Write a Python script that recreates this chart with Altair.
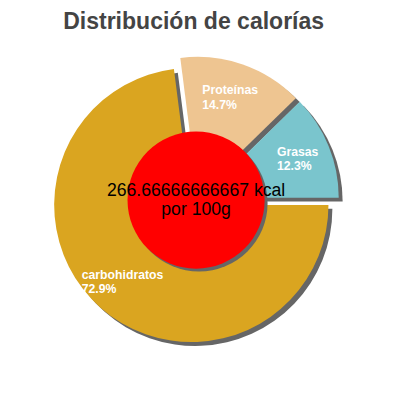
import math
import altair as alt
import pandas as pd

# ---- data ----
title_text = "Distribución de calorías"
names = ["carbohidratos", "Proteínas", "Grasas"]
percents = [72.9, 14.7, 12.3]
colors = ["#DAA520", "#EEC591", "#7AC5CD"]
center_lines = ["266.66666666667 kcal", "por 100g"]

# ---- layout / style ----
W, H = 392, 392
CX, CY = 191.5, 192.0
R = 140
EXPLODE = 6.6
LABEL_R = 111  # from pie centre
SHADOW = 4
SHADOW_COLOR = "#666666"
FONT = "Liberation Sans"
TOTAL = sum(percents)
CIRCLE_R = 70

df = pd.DataFrame({"name": names, "value": percents})

base = (
    alt.Chart(df)
    .transform_window(idx="row_number()")
    .transform_window(cum="sum(value)", sort=[alt.SortField("idx")], frame=[None, 0])
    .transform_calculate(c0="datum.cum - datum.value", c1="datum.cum")
    .transform_calculate(
        mid=f"PI/2 + 2*PI*(datum.cum - datum.value/2)/{TOTAL}"
    )
    .transform_calculate(
        px=f"{CX} + {EXPLODE}*sin(datum.mid)",
        py=f"{CY} - {EXPLODE}*cos(datum.mid)",
        sx=f"{CX} + {EXPLODE}*sin(datum.mid) + {SHADOW}",
        sy=f"{CY} - {EXPLODE}*cos(datum.mid) + {SHADOW}",
        lx=f"{CX} + {LABEL_R}*sin(datum.mid) - length(datum.name)*3.3",
        ly=f"{CY} - {LABEL_R}*cos(datum.mid) - 3",
        label="[datum.name, format(datum.value, '.1f') + '%']",
    )
)

theta_scale = alt.Scale(domain=[0, TOTAL], range=[math.pi / 2, math.pi / 2 + 2 * math.pi])

shadows = base.mark_arc(radius=R, color=SHADOW_COLOR).encode(
    theta=alt.Theta("c0:Q", scale=theta_scale),
    theta2="c1:Q",
    x=alt.X("sx:Q", scale=None),
    y=alt.Y("sy:Q", scale=None),
)

slices = base.mark_arc(radius=R).encode(
    theta=alt.Theta("c0:Q", scale=theta_scale),
    theta2="c1:Q",
    x=alt.X("px:Q", scale=None),
    y=alt.Y("py:Q", scale=None),
    color=alt.Color("name:N", scale=alt.Scale(domain=names, range=colors), legend=None),
)

labels = base.mark_text(
    align="left", baseline="alphabetic", color="white", fontSize=12.5,
    fontWeight="bold", lineHeight=14.5, font=FONT,
).encode(
    x=alt.X("lx:Q", scale=None),
    y=alt.Y("ly:Q", scale=None),
    text="label:N",
)

one = pd.DataFrame({"t": [title_text]})
circle_size = (2 * CIRCLE_R) ** 2  # Vega circle: radius = sqrt(size)/2

circle_shadow = alt.Chart(one).mark_circle(
    size=circle_size, color=SHADOW_COLOR, opacity=1
).encode(x=alt.value(CX + 0.5 + 3), y=alt.value(CY + 3))

circle = alt.Chart(one).mark_circle(
    size=circle_size, color="#FF0000", opacity=1
).encode(x=alt.value(CX + 0.5), y=alt.value(CY))

center_text = alt.Chart(one).transform_calculate(
    lines=f"{center_lines!r}"
).mark_text(
    align="center", baseline="alphabetic", fontSize=18, lineHeight=19,
    color="black", font=FONT,
).encode(x=alt.value(CX + 0.5), y=alt.value(188), text="lines:N")

title = alt.Chart(one).mark_text(
    align="center", baseline="alphabetic", fontSize=23.5, fontWeight="bold",
    color="#444444", font=FONT,
).encode(x=alt.value(189.5), y=alt.value(17.5), text="t:N")

chart = alt.layer(
    shadows, slices, circle_shadow, circle, labels, center_text, title
).properties(
    width=W, height=H, padding=0, autosize="none"
).configure_view(stroke=None)

chart.save("out.html", embed_options={"renderer": "svg", "actions": False})
